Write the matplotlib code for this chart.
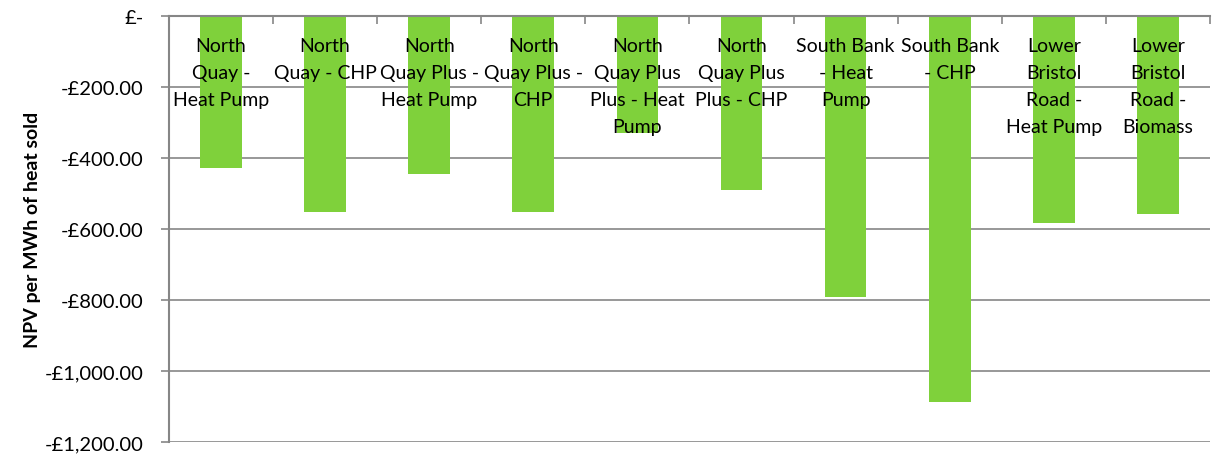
import matplotlib.pyplot as plt
from matplotlib.ticker import FuncFormatter, MultipleLocator

plt.rcParams['font.family'] = ['Lato', 'DejaVu Sans']

# NPV per MWh of heat sold for each scheme option
categories = [
    "North\nQuay -\nHeat Pump",
    "North\nQuay - CHP",
    "North\nQuay Plus -\nHeat Pump",
    "North\nQuay Plus -\nCHP",
    "North\nQuay Plus\nPlus - Heat\nPump",
    "North\nQuay Plus\nPlus - CHP",
    "South Bank\n- Heat\nPump",
    "South Bank\n- CHP",
    "Lower\nBristol\nRoad -\nHeat Pump",
    "Lower\nBristol\nRoad -\nBiomass",
]
npv = [-428, -552, -445, -552, -330, -490, -792, -1087, -583, -558]

bar_color = "#7FD13B"
axis_color = "#868686"


def gbp(v, pos):
    if v == 0:
        return "£-"
    return f"-£{abs(v):,.2f}"


fig = plt.figure(figsize=(12.24, 4.6), dpi=100)
ax = fig.add_axes([0.138, 0.037, 0.8506, 0.926])

x = list(range(len(categories)))
ax.bar(x, npv, width=0.4, color=bar_color, zorder=2)

ax.set_xlim(-0.5, len(categories) - 0.5)
ax.set_ylim(-1200, 0)
ax.yaxis.set_major_locator(MultipleLocator(200))
ax.yaxis.set_major_formatter(FuncFormatter(gbp))
ax.grid(axis="y", color=axis_color, linewidth=1.2, zorder=0)

# category axis sits along the zero line at the top
ax.set_xticks([])
ax.set_xticks([i + 0.5 for i in x[:-1]] + [len(categories) - 0.5], minor=True)
ax.tick_params(axis="x", which="minor", top=True, bottom=False, direction="in",
               length=6, width=1.2, color=axis_color)
for i, label in zip(x, categories):
    ax.annotate(label, xy=(i, 0), xytext=(0, -15), textcoords="offset points",
                ha="center", va="top", fontsize=14, linespacing=1.72,
                zorder=3)

ax.tick_params(axis="y", length=6, width=1.2, color=axis_color,
               labelsize=14.5, pad=12)
for side in ("right", "bottom"):
    ax.spines[side].set_visible(False)
for side in ("left", "top"):
    ax.spines[side].set_color(axis_color)
    ax.spines[side].set_linewidth(1.5)

ax.set_ylabel("NPV per MWh of heat sold", fontsize=14, fontweight="bold",
              labelpad=3)

fig.savefig("out.png", dpi=100)
